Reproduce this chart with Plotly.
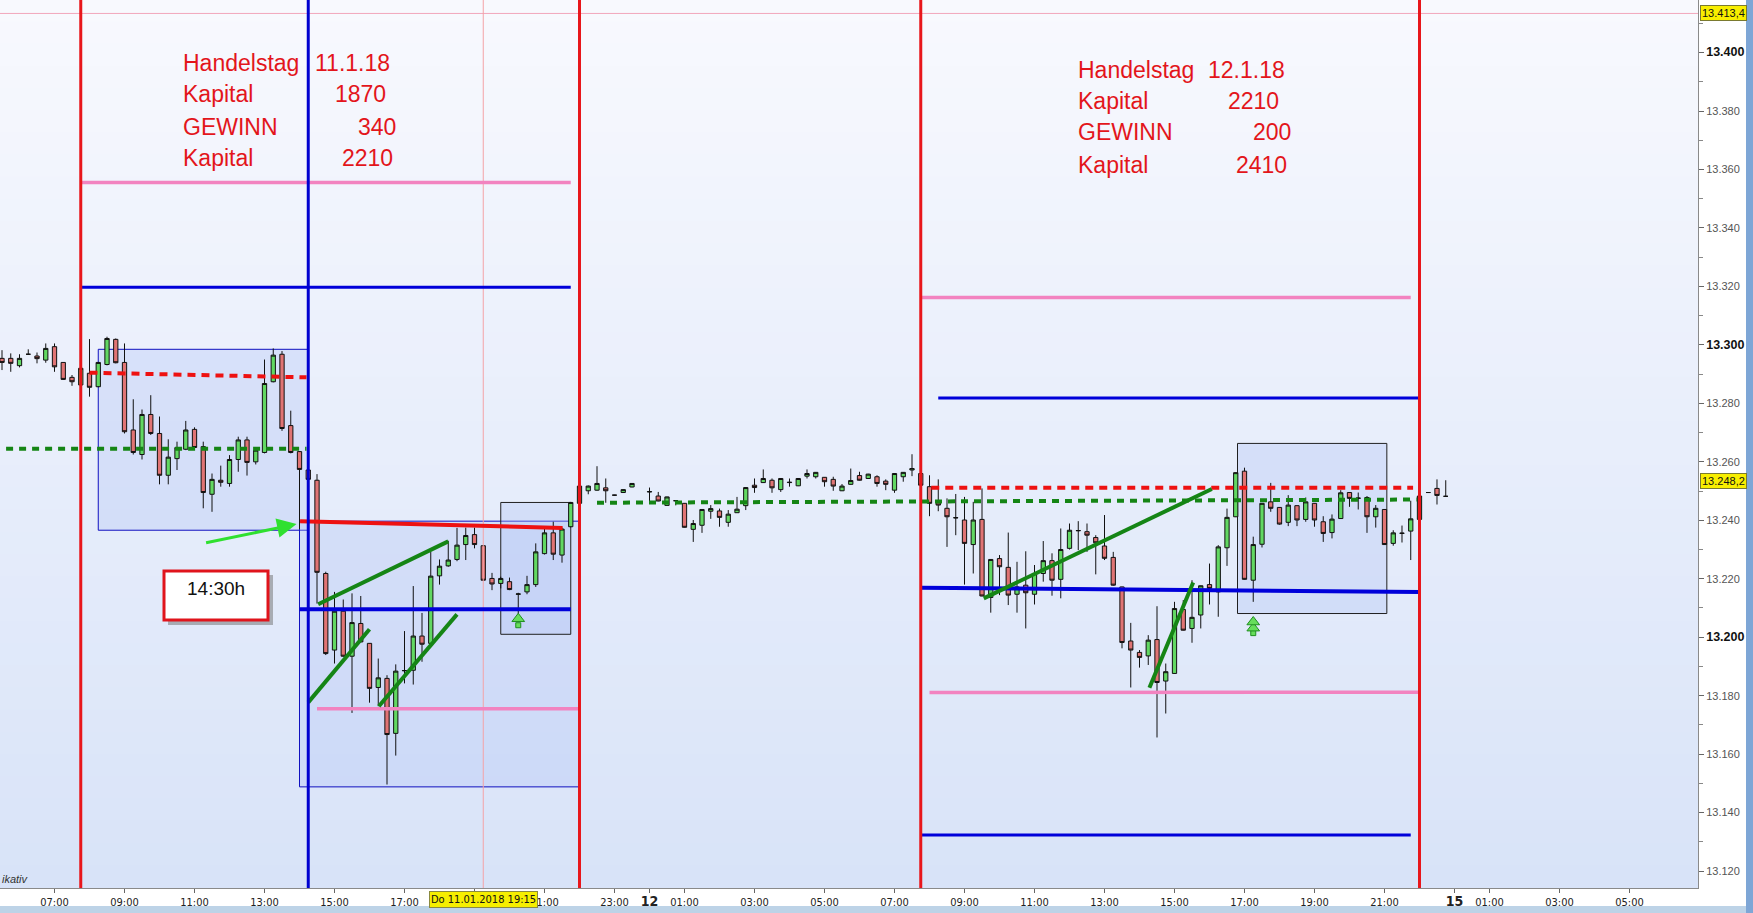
import plotly.graph_objects as go
import pandas as pd

# ---------------- data (15-minute candles, DAX, 11./12.01.2018) ----------------
START = "2018-01-11 05:30"
opens = [13295.4, 13295.4, 13292.9, 13296.8, 13296.2, 13294.8, 13299.4, 13294.0, 13288.9, 13286.3,
         13290.3, 13285.7, 13293.3, 13301.9, 13294.0, 13270.9, 13262.5, 13276.2, 13269.7, 13255.4,
         13261.1, 13264.3, 13271.1, 13265.2, 13248.9, 13253.7, 13252.6, 13260.8, 13267.5, 13260.0,
         13263.2, 13287.4, 13296.8, 13272.4, 13263.5, 13257.2, 13253.7, 13221.8, 13195.6, 13208.9,
         13193.5, 13204.7, 13197.9, 13182.8, 13185.9, 13167.1, 13188.5, 13188.7, 13200.4, 13197.9,
         13221.0, 13224.4, 13226.6, 13231.7, 13235.1, 13231.3, 13220.1, 13218.4, 13219.0, 13214.7,
         13215.5, 13218.0, 13228.6, 13235.7, 13228.1, 13237.8, 13245.8, 13250.1, 13250.3, 13251.1,
         13248.6, 13249.5, 13251.4, None, 13249.7, 13248.3, 13245.1, 13246.7, 13245.8, 13236.9,
         13238.3, 13243.1, 13243.2, 13239.3, 13242.6, 13245.0, 13252.0, 13252.9, 13253.7, 13250.5,
         13252.9, 13251.8, 13255.1, 13254.9, 13254.7, 13254.0, 13250.1, 13252.3, 13255.3, 13254.3,
         13254.9, 13253.4, 13250.3, 13254.9, 13257.2, 13256.0, 13251.5, 13246.3, 13244.1, 13240.8,
         13240.1, 13231.7, 13240.3, 13213.6, 13226.9, 13223.9, 13214.7, 13217.8, 13214.7, 13221.8,
         13226.2, 13219.8, 13230.4, 13236.4, 13236.1, 13234.1, 13231.2, 13227.3, 13217.2, 13198.7,
         13194.8, 13193.6, 13199.2, 13185.0, 13187.6, 13209.5, 13203.0, 13207.6, 13218.0, 13215.5,
         13230.6, 13241.2, 13256.8, 13219.5, 13231.8, 13246.3, 13244.4, 13239.3, 13245.0, 13240.3,
         13245.8, 13239.5, 13235.8, 13240.6, 13249.5, 13247.5, 13247.8, 13241.2, 13243.7, 13232.1,
         13235.5, 13236.3, 13240.3, 13249.5, 13250.9, 13248.2]
highs = [13298.2, 13297.1, 13296.8, 13298.5, 13297.4, 13300.5, 13300.5, 13294.0, 13289.7, 13292.2,
         13302.0, 13294.2, 13302.8, 13302.2, 13300.5, 13281.4, 13277.9, 13282.8, 13275.5, 13267.7,
         13266.9, 13274.0, 13271.8, 13266.9, 13256.0, 13258.7, 13262.3, 13268.6, 13268.6, 13264.6,
         13295.0, 13298.8, 13297.9, 13277.5, 13263.7, 13257.4, 13255.8, 13222.4, 13215.5, 13212.9,
         13215.0, 13214.1, 13198.0, 13192.7, 13187.0, 13190.7, 13202.1, 13217.5, 13208.3, 13229.2,
         13226.6, 13233.0, 13237.4, 13237.5, 13237.5, 13231.5, 13222.0, 13220.7, 13220.4, 13215.2,
         13221.0, 13232.1, 13237.8, 13239.5, 13237.5, 13246.3, 13251.9, 13251.9, 13258.5, 13254.3,
         13248.7, 13250.6, 13252.7, None, 13251.2, 13249.7, 13248.1, 13246.8, 13245.9, 13240.1,
         13243.8, 13245.2, 13244.0, 13243.5, 13248.0, 13251.3, 13254.3, 13257.4, 13254.3, 13254.4,
         13254.3, 13254.4, 13257.4, 13256.5, 13254.8, 13254.9, 13252.4, 13257.7, 13256.6, 13255.9,
         13255.4, 13254.0, 13256.1, 13256.5, 13262.6, 13256.1, 13255.4, 13254.0, 13247.5, 13249.0,
         13248.0, 13246.3, 13250.9, 13226.7, 13228.1, 13235.8, 13225.8, 13229.4, 13224.7, 13232.9,
         13228.7, 13237.2, 13238.9, 13239.7, 13238.9, 13234.9, 13241.8, 13229.2, 13217.3, 13204.9,
         13195.6, 13200.7, 13210.6, 13191.0, 13212.1, 13212.7, 13219.5, 13217.7, 13225.2, 13231.5,
         13244.0, 13256.4, 13258.0, 13234.4, 13245.9, 13252.8, 13244.5, 13248.6, 13245.1, 13247.8,
         13245.9, 13241.4, 13242.0, 13250.3, 13249.6, 13249.5, 13248.3, 13245.2, 13243.8, 13236.6,
         13238.2, 13246.7, 13248.4, 13249.6, 13254.0, 13253.7]
lows = [13291.4, 13290.8, 13292.3, 13296.6, 13293.7, 13293.9, 13290.8, 13288.0, 13286.0, 13286.0,
        13282.3, 13285.5, 13293.0, 13293.7, 13269.7, 13262.5, 13260.8, 13269.2, 13252.3, 13252.3,
        13257.2, 13264.0, 13264.6, 13244.1, 13242.9, 13251.5, 13251.5, 13256.6, 13255.3, 13259.1,
        13262.9, 13287.2, 13270.6, 13262.9, 13237.0, 13253.8, 13211.5, 13193.9, 13191.0, 13193.3,
        13174.1, 13198.2, 13177.6, 13176.4, 13149.6, 13159.5, 13184.2, 13183.8, 13191.6, 13197.7,
        13218.0, 13224.1, 13226.0, 13226.4, 13230.4, 13219.3, 13216.1, 13216.7, 13216.1, 13207.5,
        13214.7, 13217.2, 13228.3, 13226.4, 13225.5, 13237.6, 13245.6, 13248.9, 13250.1, 13246.0,
        13248.5, 13249.4, 13251.3, None, 13246.6, 13246.5, 13245.0, 13245.1, 13237.5, 13232.6,
        13235.7, 13240.5, 13237.8, 13237.8, 13242.5, 13243.5, 13249.4, 13252.8, 13249.4, 13249.7,
        13251.5, 13251.7, 13254.3, 13254.3, 13251.5, 13250.1, 13250.0, 13252.2, 13253.6, 13254.2,
        13251.5, 13250.3, 13249.4, 13253.2, 13255.1, 13251.9, 13241.4, 13243.1, 13230.9, 13234.9,
        13218.0, 13221.8, 13214.0, 13208.4, 13214.4, 13211.0, 13208.4, 13203.0, 13211.2, 13219.0,
        13214.2, 13213.3, 13230.0, 13229.8, 13229.2, 13221.5, 13226.4, 13217.6, 13196.2, 13182.8,
        13189.6, 13190.5, 13165.7, 13173.9, 13187.5, 13202.3, 13198.1, 13203.0, 13211.2, 13207.0,
        13224.4, 13241.1, 13219.7, 13212.1, 13230.7, 13242.9, 13238.5, 13238.0, 13238.0, 13239.5,
        13237.8, 13232.6, 13233.8, 13240.5, 13244.6, 13243.7, 13235.7, 13237.5, 13231.6, 13231.3,
        13232.4, 13226.4, 13240.2, 13249.4, 13245.4, 13248.1]
closes = [13294.0, 13293.7, 13295.4, 13296.8, 13295.3, 13298.8, 13292.5, 13288.2, 13287.4, 13292.0,
          13285.5, 13294.0, 13302.2, 13293.9, 13270.3, 13263.2, 13276.2, 13269.7, 13255.4, 13261.6,
          13264.9, 13270.9, 13264.9, 13249.5, 13254.0, 13253.0, 13260.8, 13267.5, 13259.8, 13264.0,
          13286.8, 13296.5, 13271.4, 13263.2, 13257.4, 13254.0, 13222.2, 13194.4, 13208.9, 13193.5,
          13205.0, 13198.4, 13182.5, 13186.1, 13166.7, 13188.4, 13188.6, 13200.4, 13197.6, 13220.9,
          13224.3, 13226.4, 13231.5, 13234.8, 13231.7, 13219.5, 13218.2, 13220.1, 13216.3, 13214.8,
          13218.0, 13229.2, 13235.7, 13228.4, 13237.0, 13246.1, 13251.7, 13251.7, 13252.6, 13250.1,
          13248.6, 13250.5, 13252.6, None, 13249.8, 13246.6, 13248.0, 13246.7, 13237.6, 13238.9,
          13243.7, 13244.0, 13241.0, 13242.1, 13243.8, 13251.2, 13251.2, 13254.3, 13251.1, 13254.3,
          13253.0, 13254.3, 13256.0, 13256.4, 13253.2, 13251.7, 13251.7, 13253.6, 13253.7, 13255.8,
          13252.6, 13252.3, 13256.0, 13256.4, 13257.7, 13252.0, 13245.8, 13245.2, 13241.2, 13240.9,
          13232.1, 13240.1, 13214.1, 13226.6, 13224.1, 13214.4, 13217.2, 13215.2, 13221.8, 13226.2,
          13219.5, 13230.0, 13236.6, 13236.5, 13234.9, 13232.3, 13227.0, 13217.8, 13198.2, 13195.6,
          13193.1, 13199.0, 13184.5, 13188.2, 13209.8, 13202.4, 13206.8, 13217.6, 13216.7, 13230.9,
          13241.0, 13256.3, 13219.8, 13231.7, 13245.8, 13244.1, 13238.7, 13245.2, 13240.1, 13246.3,
          13240.1, 13235.5, 13240.4, 13249.4, 13247.5, 13247.6, 13241.2, 13244.1, 13231.7, 13235.7,
          13235.6, 13240.5, 13248.3, 13249.5, 13248.5, 13248.2]

x_ticks = ["2018-01-11 07:00", "2018-01-11 09:00", "2018-01-11 11:00", "2018-01-11 13:00",
           "2018-01-11 15:00", "2018-01-11 17:00", "2018-01-11 19:00", "2018-01-11 21:00",
           "2018-01-11 23:00", "2018-01-12 00:00", "2018-01-12 01:00", "2018-01-12 03:00",
           "2018-01-12 05:00", "2018-01-12 07:00", "2018-01-12 09:00", "2018-01-12 11:00",
           "2018-01-12 13:00", "2018-01-12 15:00", "2018-01-12 17:00", "2018-01-12 19:00",
           "2018-01-12 21:00", "2018-01-15 00:00", "2018-01-15 01:00", "2018-01-15 03:00",
           "2018-01-15 05:00"]
x_labels = ["07:00", "09:00", "11:00", "13:00", "15:00", "17:00", "", "21:00", "23:00",
            "<b><span style='font-size:14px'>12</span></b>", "01:00", "03:00", "05:00", "07:00",
            "09:00", "11:00", "13:00", "15:00", "17:00", "19:00", "21:00",
            "<b><span style='font-size:14px'>15</span></b>", "01:00", "03:00", "05:00"]
y_ticks = list(range(13120, 13401, 20))
y_labels = [("<b><span style='font-size:12.5px;color:#111'>%s</span></b>" if v % 100 == 0 else "%s")
            % ("{:,}".format(v).replace(",", ".")) for v in y_ticks]

# signal arrows (stem, heads)
sig_x = ["2018-01-11 20:15", "2018-01-12 17:15"]
sig_stem = [13204.1, 13201.4]
sig_head1 = [13206.3, 13203.1]
sig_head2 = [None, 13205.2]

# ---------------- build candles ----------------
times = pd.date_range(START, periods=len(opens), freq="15min")
df = pd.DataFrame({"t": times, "o": opens, "h": highs, "l": lows, "c": closes}).dropna()

fig = go.Figure()
fig.add_trace(go.Candlestick(
    x=df["t"], open=df["o"], high=df["h"], low=df["l"], close=df["c"],
    increasing=dict(fillcolor="#62d862", line=dict(color="#111111", width=1)),
    decreasing=dict(fillcolor="#e07474", line=dict(color="#111111", width=1)),
    whiskerwidth=0, showlegend=False, hoverinfo="skip"))

AR = dict(color="#66dd5a", line=dict(color="#1f8f1f", width=1))
fig.add_trace(go.Scatter(x=sig_x, y=sig_stem, mode="markers",
                         marker=dict(symbol="square", size=5, **AR), showlegend=False, hoverinfo="skip"))
fig.add_trace(go.Scatter(x=sig_x, y=sig_head1, mode="markers",
                         marker=dict(symbol="triangle-up", size=11, **AR), showlegend=False, hoverinfo="skip"))
fig.add_trace(go.Scatter(x=sig_x, y=sig_head2, mode="markers",
                         marker=dict(symbol="triangle-up", size=11, **AR), showlegend=False, hoverinfo="skip"))

shapes = []
# background gradient
N = 40
top_c, bot_c = (248, 249, 254), (216, 227, 248)
for i in range(N):
    f = (i + 0.5) / N
    col = tuple(int(round(top_c[j] + (bot_c[j] - top_c[j]) * f)) for j in range(3))
    shapes.append(dict(type="rect", xref="paper", yref="paper", x0=0, x1=1,
                       y0=1 - (i + 1) / N, y1=1 - i / N + 0.001, layer="below",
                       line=dict(width=0), fillcolor="rgb(%d,%d,%d)" % col))

def rect(x0, x1, y0, y1, lc):
    shapes.append(dict(type="rect", x0=x0, x1=x1, y0=y0, y1=y1, layer="below",
                       line=dict(color=lc, width=1), fillcolor="rgba(175,195,245,0.33)"))

rect("2018-01-11 08:15", "2018-01-11 14:15", 13236.6, 13298.5, "#1010c0")
rect("2018-01-11 14:00", "2018-01-11 22:00", 13148.8, 13239.7, "#1010c0")
rect("2018-01-11 19:45", "2018-01-11 21:45", 13201.0, 13246.1, "#202020")
rect("2018-01-12 16:48", "2018-01-12 21:04", 13208.1, 13266.3, "#202020")

def seg(x0, y0, x1, y1, color, width=3, dash="solid"):
    shapes.append(dict(type="line", x0=x0, x1=x1, y0=y0, y1=y1, layer="above",
                       line=dict(color=color, width=width, dash=dash)))

RED, BLUE, PINK, GREEN = "#e8161b", "#0000da", "#f283c0", "#158515"
# top high line
shapes.append(dict(type="line", xref="paper", x0=0, x1=1, y0=13413.4, y1=13413.4,
                   line=dict(color="#f2a6bb", width=1)))
# crosshair
shapes.append(dict(type="line", yref="paper", x0="2018-01-11 19:15", x1="2018-01-11 19:15",
                   y0=0, y1=1, line=dict(color="#f4a2a6", width=1)))

# day 11 levels
seg("2018-01-11 07:45", 13355.6, "2018-01-11 21:45", 13355.6, PINK, 3.5)
seg("2018-01-11 07:45", 13319.7, "2018-01-11 21:45", 13319.7, BLUE)
seg("2018-01-11 08:00", 13290.5, "2018-01-11 14:12", 13288.9, "#ee1111", 4, "8px,6px")
seg("2018-01-11 05:37", 13264.5, "2018-01-11 14:12", 13264.5, GREEN, 4, "7px,6px")
seg("2018-01-11 14:01", 13239.7, "2018-01-11 21:31", 13237.4, "#ee1111", 4)
seg("2018-01-11 14:00", 13209.6, "2018-01-11 21:45", 13209.6, BLUE, 4)
seg("2018-01-11 14:30", 13175.5, "2018-01-11 22:00", 13175.5, PINK, 3.5)
seg("2018-01-11 14:32", 13211.3, "2018-01-11 18:15", 13232.8, GREEN, 4)
seg("2018-01-11 14:15", 13177.7, "2018-01-11 16:00", 13202.7, GREEN, 4)
seg("2018-01-11 16:16", 13176.4, "2018-01-11 18:30", 13207.8, GREEN, 4)

# day 12 levels
seg("2018-01-12 07:45", 13316.2, "2018-01-12 21:45", 13316.2, PINK, 3.5)
seg("2018-01-12 08:15", 13281.8, "2018-01-12 22:00", 13281.8, BLUE)
seg("2018-01-12 08:03", 13251.1, "2018-01-12 21:49", 13251.1, "#ee1111", 4, "8px,6px")
seg("2018-01-11 22:30", 13246.0, "2018-01-12 21:55", 13247.1, GREEN, 4, "7px,6px")
seg("2018-01-12 07:45", 13216.9, "2018-01-12 22:00", 13215.5, BLUE, 4)
seg("2018-01-12 08:00", 13181.1, "2018-01-12 22:00", 13181.2, PINK, 3.5)
seg("2018-01-12 07:45", 13132.3, "2018-01-12 21:45", 13132.3, BLUE)
seg("2018-01-12 09:33", 13213.3, "2018-01-12 16:04", 13250.7, GREEN, 4)
seg("2018-01-12 14:17", 13182.7, "2018-01-12 15:32", 13218.7, GREEN, 4)

# session lines
for xv in ["2018-01-11 07:45", "2018-01-11 22:00", "2018-01-12 07:45", "2018-01-12 22:00"]:
    shapes.append(dict(type="line", yref="paper", x0=xv, x1=xv, y0=0, y1=1, layer="above",
                       line=dict(color=RED, width=3)))
shapes.append(dict(type="line", yref="paper", x0="2018-01-11 14:15", x1="2018-01-11 14:15",
                   y0=0, y1=1, layer="above", line=dict(color="#0000d0", width=3)))

# 14:30h box (shadow + frame)
shapes.append(dict(type="rect", xref="paper", yref="paper", x0=168 / 1698, x1=273 / 1698,
                   y0=1 - 625 / 888, y1=1 - 575 / 888, line=dict(width=0),
                   fillcolor="rgba(120,120,120,0.55)"))
shapes.append(dict(type="rect", xref="paper", yref="paper", x0=164 / 1698, x1=268 / 1698,
                   y0=1 - 620 / 888, y1=1 - 571 / 888, line=dict(color="#e0141c", width=3),
                   fillcolor="#ffffff"))
# window frame bits outside the plot
shapes.append(dict(type="rect", xref="paper", yref="paper", x0=-0.01, x1=1.04,
                   y0=1 - 913 / 888, y1=1 - 906 / 888, line=dict(width=0), fillcolor="#bdd3e7"))
shapes.append(dict(type="rect", xref="paper", yref="paper", x0=1746 / 1698, x1=1.04,
                   y0=1 - 913 / 888, y1=1.01, line=dict(width=0), fillcolor="#7ea6d6"))

ann = []
TXT = dict(family="Liberation Sans, Arial, sans-serif", size=23, color="#e3151b")

def txt(x, y, s, font=TXT, anchor="left"):
    ann.append(dict(xref="paper", yref="paper", x=x / 1698, y=1 - y / 888, text=s,
                    showarrow=False, xanchor=anchor, yanchor="middle", font=font))

for (xl, xv, y, lab, val) in [
        (183, 315, 62.7, "Handelstag", "11.1.18"), (183, 335, 94.5, "Kapital", "1870"),
        (183, 358, 126.5, "GEWINN", "340"), (183, 341.5, 158.5, "Kapital", "2210"),
        (1078, 1208, 69.7, "Handelstag", "12.1.18"), (1078, 1228, 101.2, "Kapital", "2210"),
        (1078, 1253, 132.3, "GEWINN", "200"), (1078, 1236, 164.6, "Kapital", "2410")]:
    txt(xl - 2, y, lab)
    txt(xv - 2, y, val)

txt(216, 588, "14:30h", dict(family="Liberation Sans, Arial", size=19, color="#111111"), "center")
txt(0, 879, "<i>ikativ</i>", dict(family="Liberation Sans, Arial", size=11, color="#333333"))

# green arrow
ann.append(dict(x="2018-01-11 13:55", y=13238.7, ax=-92, ay=19, showarrow=True, arrowhead=2,
                arrowsize=1.3, arrowwidth=3, arrowcolor="#2fe02f", text=""))

# yellow price labels
for v, lbl, shift in [(13413.4, "13.413,4", 0), (13248.2, "13.248,2", 15)]:
    ann.append(dict(xref="paper", yref="y", x=1.001, y=v, yshift=shift, text=lbl, showarrow=False,
                    xanchor="left", yanchor="middle", bgcolor="#f8ee00", bordercolor="#7a7a30",
                    borderwidth=1, borderpad=1,
                    font=dict(family="Liberation Sans, Arial", size=11, color="#111")))
# crosshair time label
ann.append(dict(x="2018-01-11 19:15", xref="x", yref="paper", y=1 - 899 / 888, text="Do 11.01.2018 19:15",
                showarrow=False, xanchor="center", yanchor="middle", bgcolor="#f6ee00",
                bordercolor="#8a8a40", borderwidth=1, borderpad=1,
                font=dict(family="Liberation Sans Narrow, DejaVu Sans Condensed, Arial Narrow, sans-serif",
                          size=11, color="#111")))

fig.update_layout(
    width=1753, height=913, margin=dict(l=0, r=55, t=0, b=25),
    paper_bgcolor="#ffffff", plot_bgcolor="#eef2fb",
    shapes=shapes, annotations=ann, showlegend=False,
    xaxis=dict(type="date", range=["2018-01-11 05:26:34", "2018-01-15 06:57:26"],
               rangebreaks=[dict(bounds=["2018-01-12 23:00", "2018-01-15 00:00"])],
               rangeslider=dict(visible=False), tickmode="array", tickvals=x_ticks,
               ticktext=x_labels, ticks="outside", ticklen=4, tickcolor="#666",
               showgrid=False, zeroline=False, showline=True, linecolor="#8a8a8a", linewidth=1,
               tickfont=dict(family="Liberation Sans Narrow, DejaVu Sans Condensed, Arial Narrow, sans-serif",
                             size=11, color="#222")),
    yaxis=dict(side="right", range=[13114.2, 13418.0], tickmode="array", tickvals=y_ticks,
               ticktext=y_labels, ticks="outside", ticklen=5, tickcolor="#666",
               minor=dict(tickvals=list(range(13130, 13420, 20)), ticks="outside", ticklen=4,
                          tickcolor="#888"),
               showgrid=False, zeroline=False, showline=True, linecolor="#8a8a8a", linewidth=1,
               tickfont=dict(family="Liberation Sans, Arial, sans-serif", size=11, color="#555")),
)

fig.write_html("out.html", config={"displayModeBar": False},
               post_script="document.body.style.margin='0';document.body.style.overflow='hidden';")
